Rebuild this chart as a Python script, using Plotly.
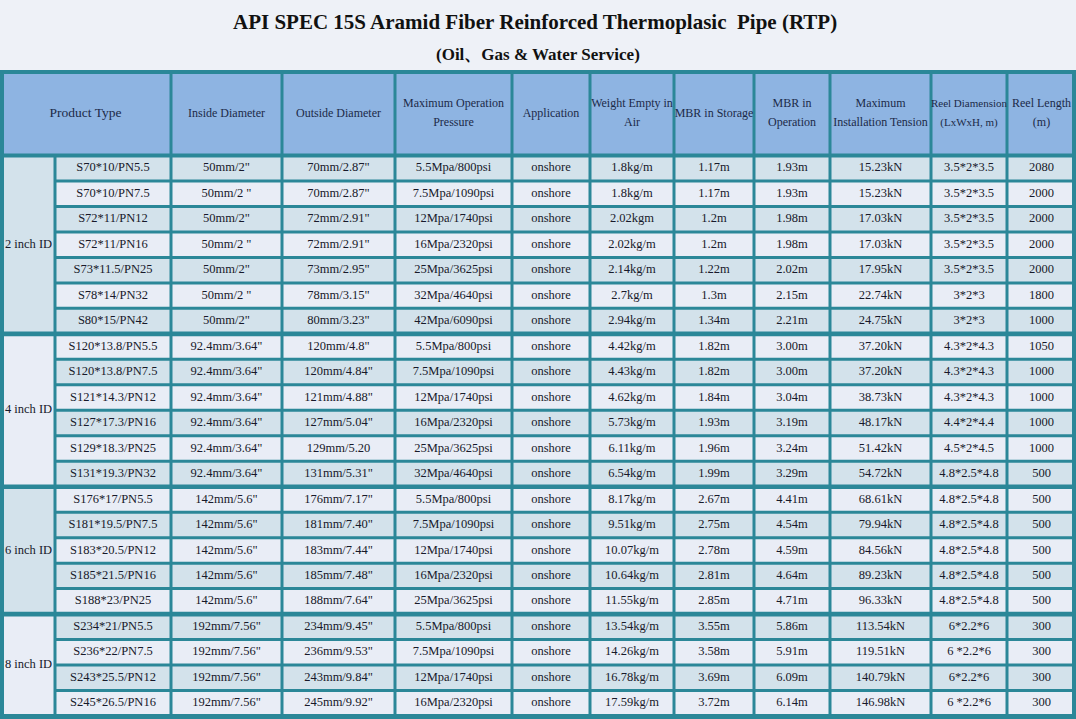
import plotly.graph_objects as go

# Title texts
title = "API SPEC 15S Aramid Fiber Reinforced Thermoplasic  Pipe (RTP)"
subtitle = "(Oil、Gas & Water Service)"

# Header labels (Product Type spans the group column and the product column)
headers = [
    ["Product Type"],
    ["Inside Diameter"],
    ["Outside Diameter"],
    ["Maximum Operation", "Pressure"],
    ["Application"],
    ["Weight Empty in", "Air"],
    ["MBR in Storage"],
    ["MBR in", "Operation"],
    ["Maximum", "Installation Tension"],
    ["Reel Diamension", "(LxWxH, m)"],
    ["Reel Length", "(m)"],
]

groups = ["2 inch ID", "4 inch ID", "6 inch ID", "8 inch ID"]
group_sizes = [7, 6, 5, 4]

product_type = [
    "S70*10/PN5.5", "S70*10/PN7.5", "S72*11/PN12", "S72*11/PN16", "S73*11.5/PN25",
    "S78*14/PN32", "S80*15/PN42",
    "S120*13.8/PN5.5", "S120*13.8/PN7.5", "S121*14.3/PN12", "S127*17.3/PN16",
    "S129*18.3/PN25", "S131*19.3/PN32",
    "S176*17/PN5.5", "S181*19.5/PN7.5", "S183*20.5/PN12", "S185*21.5/PN16", "S188*23/PN25",
    "S234*21/PN5.5", "S236*22/PN7.5", "S243*25.5/PN12", "S245*26.5/PN16",
]
inside_diameter = [
    '50mm/2"', '50mm/2 "', '50mm/2"', '50mm/2 "', '50mm/2"', '50mm/2 "', '50mm/2"',
    '92.4mm/3.64"', '92.4mm/3.64"', '92.4mm/3.64"', '92.4mm/3.64"', '92.4mm/3.64"', '92.4mm/3.64"',
    '142mm/5.6"', '142mm/5.6"', '142mm/5.6"', '142mm/5.6"', '142mm/5.6"',
    '192mm/7.56"', '192mm/7.56"', '192mm/7.56"', '192mm/7.56"',
]
outside_diameter = [
    '70mm/2.87"', '70mm/2.87"', '72mm/2.91"', '72mm/2.91"', '73mm/2.95"', '78mm/3.15"', '80mm/3.23"',
    '120mm/4.8"', '120mm/4.84"', '121mm/4.88"', '127mm/5.04"', '129mm/5.20', '131mm/5.31"',
    '176mm/7.17"', '181mm/7.40"', '183mm/7.44"', '185mm/7.48"', '188mm/7.64"',
    '234mm/9.45"', '236mm/9.53"', '243mm/9.84"', '245mm/9.92"',
]
pressure = [
    "5.5Mpa/800psi", "7.5Mpa/1090psi", "12Mpa/1740psi", "16Mpa/2320psi", "25Mpa/3625psi",
    "32Mpa/4640psi", "42Mpa/6090psi",
    "5.5Mpa/800psi", "7.5Mpa/1090psi", "12Mpa/1740psi", "16Mpa/2320psi", "25Mpa/3625psi",
    "32Mpa/4640psi",
    "5.5Mpa/800psi", "7.5Mpa/1090psi", "12Mpa/1740psi", "16Mpa/2320psi", "25Mpa/3625psi",
    "5.5Mpa/800psi", "7.5Mpa/1090psi", "12Mpa/1740psi", "16Mpa/2320psi",
]
application = ["onshore"] * 22
weight = [
    "1.8kg/m", "1.8kg/m", "2.02kgm", "2.02kg/m", "2.14kg/m", "2.7kg/m", "2.94kg/m",
    "4.42kg/m", "4.43kg/m", "4.62kg/m", "5.73kg/m", "6.11kg/m", "6.54kg/m",
    "8.17kg/m", "9.51kg/m", "10.07kg/m", "10.64kg/m", "11.55kg/m",
    "13.54kg/m", "14.26kg/m", "16.78kg/m", "17.59kg/m",
]
mbr_storage = [
    "1.17m", "1.17m", "1.2m", "1.2m", "1.22m", "1.3m", "1.34m",
    "1.82m", "1.82m", "1.84m", "1.93m", "1.96m", "1.99m",
    "2.67m", "2.75m", "2.78m", "2.81m", "2.85m",
    "3.55m", "3.58m", "3.69m", "3.72m",
]
mbr_operation = [
    "1.93m", "1.93m", "1.98m", "1.98m", "2.02m", "2.15m", "2.21m",
    "3.00m", "3.00m", "3.04m", "3.19m", "3.24m", "3.29m",
    "4.41m", "4.54m", "4.59m", "4.64m", "4.71m",
    "5.86m", "5.91m", "6.09m", "6.14m",
]
tension = [
    "15.23kN", "15.23kN", "17.03kN", "17.03kN", "17.95kN", "22.74kN", "24.75kN",
    "37.20kN", "37.20kN", "38.73kN", "48.17kN", "51.42kN", "54.72kN",
    "68.61kN", "79.94kN", "84.56kN", "89.23kN", "96.33kN",
    "113.54kN", "119.51kN", "140.79kN", "146.98kN",
]
reel_dimension = [
    "3.5*2*3.5", "3.5*2*3.5", "3.5*2*3.5", "3.5*2*3.5", "3.5*2*3.5", "3*2*3", "3*2*3",
    "4.3*2*4.3", "4.3*2*4.3", "4.3*2*4.3", "4.4*2*4.4", "4.5*2*4.5", "4.8*2.5*4.8",
    "4.8*2.5*4.8", "4.8*2.5*4.8", "4.8*2.5*4.8", "4.8*2.5*4.8", "4.8*2.5*4.8",
    "6*2.2*6", "6 *2.2*6", "6*2.2*6", "6 *2.2*6",
]
reel_length = [
    "2080", "2000", "2000", "2000", "2000", "1800", "1000",
    "1050", "1000", "1000", "1000", "1000", "500",
    "500", "500", "500", "500", "500",
    "300", "300", "300", "300",
]

columns = [product_type, inside_diameter, outside_diameter, pressure, application, weight,
           mbr_storage, mbr_operation, tension, reel_dimension, reel_length]

# Layout geometry (pixels)
W, H = 1076, 719
col_edges = [0, 55, 171, 282, 395, 512, 590, 674, 754, 830, 931, 1007, 1076]
table_top = 70
header_bottom = 155.5
table_bottom = 716
n_rows = len(product_type)
row_h = (table_bottom - header_bottom) / n_rows
row_edges = [header_bottom + i * row_h for i in range(n_rows + 1)]

OUTER = 4
GAP = 1.5
GROUP_GAP = 2.3

# Colours
teal = "#2B8798"
page_bg = "#EEF1F7"
header_bg = "#8EB4E2"
dark_cell = "#D3E2EB"
light_cell = "#E9EDF6"
text_color = "#17192A"
header_text = "#1C2A48"
font = "Liberation Serif"

group_starts = [sum(group_sizes[:i]) for i in range(len(group_sizes))]
group_breaks = set(group_starts[1:])

shapes = []


def rect(x0, y0, x1, y1, color):
    shapes.append(dict(type="rect", xref="x", yref="y", x0=x0, y0=y0, x1=x1, y1=y1,
                       fillcolor=color, line=dict(width=0), layer="below"))


def x_inset(j, side):
    edge = col_edges[j]
    if j == 0 or j == len(col_edges) - 1:
        return edge + OUTER if side == "left" else edge - OUTER
    return edge + GAP if side == "left" else edge - GAP


def y_inset(i, side):
    edge = row_edges[i]
    if i == 0:
        g = 2
    elif i == n_rows:
        g = 2
    elif i in group_breaks:
        g = GROUP_GAP
    else:
        g = GAP
    return edge + g if side == "top" else edge - g


# table frame
rect(0, table_top, W, H, teal)

# header cells
hy0, hy1 = table_top + OUTER, header_bottom - 2
rect(x_inset(0, "left"), hy0, x_inset(2, "right"), hy1, header_bg)
for j in range(2, len(col_edges) - 1):
    rect(x_inset(j, "left"), hy0, x_inset(j + 1, "right"), hy1, header_bg)

# group cells
for g, (start, size) in enumerate(zip(group_starts, group_sizes)):
    rect(x_inset(0, "left"), y_inset(start, "top"), x_inset(1, "right"),
         y_inset(start + size, "bottom"), dark_cell if g % 2 == 0 else light_cell)

# body cells
for i in range(n_rows):
    color = dark_cell if i % 2 == 0 else light_cell
    for j in range(1, len(col_edges) - 1):
        rect(x_inset(j, "left"), y_inset(i, "top"), x_inset(j + 1, "right"),
             y_inset(i + 1, "bottom"), color)

fig = go.Figure()

row_centers = [(row_edges[i] + row_edges[i + 1]) / 2 for i in range(n_rows)]

# body text, one trace per column
for j, values in enumerate(columns):
    xc = (col_edges[j + 1] + col_edges[j + 2]) / 2
    fig.add_trace(go.Scatter(
        x=[xc] * n_rows, y=row_centers, text=values, mode="text",
        textfont=dict(family=font, size=12.5, color=text_color),
        hoverinfo="skip", showlegend=False))

# group labels
group_y = [(row_edges[s] + row_edges[s + n]) / 2 for s, n in zip(group_starts, group_sizes)]
fig.add_trace(go.Scatter(
    x=[(col_edges[0] + col_edges[1]) / 2 + 1] * len(groups), y=group_y, text=groups,
    mode="text", textfont=dict(family=font, size=12.5, color=text_color),
    hoverinfo="skip", showlegend=False))

# header labels (line by line)
header_mid = (table_top + header_bottom) / 2 + 1
line_step = 19
hx, hyy, ht, hs = [], [], [], []
for k, lines in enumerate(headers):
    if k == 0:
        xc = (col_edges[0] + col_edges[2]) / 2
    else:
        xc = (col_edges[k + 1] + col_edges[k + 2]) / 2
    n = len(lines)
    for m, line in enumerate(lines):
        hx.append(xc)
        hyy.append(header_mid + (m - (n - 1) / 2) * line_step)
        ht.append(line)
        hs.append(13.5 if k == 0 else (11 if k == 9 else 12))
fig.add_trace(go.Scatter(
    x=hx, y=hyy, text=ht, mode="text",
    textfont=dict(family=font, size=hs, color=header_text),
    hoverinfo="skip", showlegend=False))

fig.update_layout(
    width=W, height=H,
    margin=dict(l=0, r=0, t=0, b=0),
    paper_bgcolor=page_bg, plot_bgcolor=page_bg,
    shapes=shapes,
    xaxis=dict(range=[0, W], visible=False, fixedrange=True),
    yaxis=dict(range=[H, 0], visible=False, fixedrange=True),
    annotations=[
        dict(text="<b>" + title + "</b>", x=W / 2 - 3, y=22, xref="x", yref="y",
             showarrow=False, font=dict(family=font, size=21, color="#111111")),
        dict(text="<b>" + subtitle + "</b>", x=W / 2, y=54, xref="x", yref="y",
             showarrow=False, font=dict(family=font, size=17, color="#111111")),
    ],
)

fig.write_html("out.html", config={"displayModeBar": False},
               post_script="document.body.style.margin='0';document.body.style.overflow='hidden';")
